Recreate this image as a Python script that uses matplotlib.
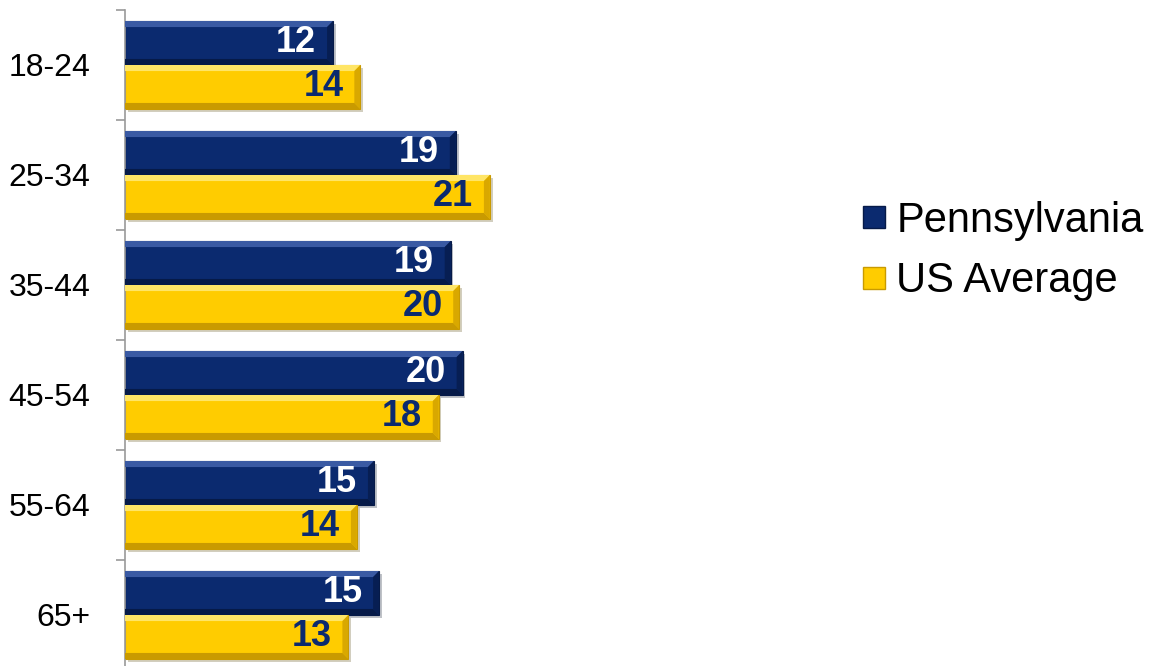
import matplotlib.pyplot as plt
import matplotlib.patheffects as pe
from matplotlib.patches import Polygon
from matplotlib.lines import Line2D

ages = ['18-24', '25-34', '35-44', '45-54', '55-64', '65+']
pennsylvania = [12.2, 19.4, 19.1, 19.8, 14.6, 14.9]
us_average = [13.8, 21.4, 19.6, 18.4, 13.6, 13.1]
series_names = ['Pennsylvania', 'US Average']

navy, navy_light, navy_dark = '#0b2a6f', '#3a5aa3', '#061a48'
gold, gold_light, gold_dark = '#ffcc00', '#ffe566', '#c99a00'

plt.rcParams['font.family'] = ['Liberation Sans', 'DejaVu Sans']

fig = plt.figure(figsize=(11.55, 6.66), dpi=100)
ax = fig.add_axes([125/1155, -4/666, 682/1155, 660/666])

pos = list(range(len(ages)))
h = 0.4
shadow = [pe.SimplePatchShadow(offset=(2, -2), alpha=0.25), pe.Normal()]


def bevel(bars, light, dark):
    dx, dy = 0.35, 0.055
    for b in bars:
        w = b.get_width()
        y0 = b.get_y()
        y1 = y0 + b.get_height()
        # ylim is inverted, so y0 is the top edge on screen
        ax.add_patch(Polygon([(0, y0), (w, y0), (w - dx, y0 + dy), (0, y0 + dy)],
                             color=light, lw=0, zorder=3))
        ax.add_patch(Polygon([(0, y1), (w, y1), (w - dx, y1 - dy), (0, y1 - dy)],
                             color=dark, lw=0, zorder=3))
        ax.add_patch(Polygon([(w, y0), (w, y1), (w - dx, y1 - dy), (w - dx, y0 + dy)],
                             color=dark, lw=0, alpha=0.7, zorder=3))


pa_bars = ax.barh([p - h/2 for p in pos], pennsylvania, height=h, color=navy,
                  edgecolor=navy_dark, lw=0.8, zorder=2)
us_bars = ax.barh([p + h/2 for p in pos], us_average, height=h, color=gold,
                  edgecolor=gold_dark, lw=0.8, zorder=2)
for b in list(pa_bars) + list(us_bars):
    b.set_path_effects(shadow)
bevel(pa_bars, navy_light, navy_dark)
bevel(us_bars, gold_light, gold_dark)

for bars, vals, col in [(pa_bars, pennsylvania, 'white'), (us_bars, us_average, '#0b2a6f')]:
    for b, v in zip(bars, vals):
        ax.annotate(f'{v:.0f}', (v, b.get_y() + b.get_height()/2),
                    xytext=(-12, 0), textcoords='offset points',
                    ha='right', va='center', fontsize=26, fontweight='bold',
                    color=col, zorder=5)

ax.set_xlim(0, 40)
ax.set_ylim(5.5, -0.5)
ax.set_yticks(pos)
ax.set_yticklabels(ages, fontsize=23)
ax.set_yticks([p - 0.5 for p in pos] + [5.5], minor=True)
ax.tick_params(axis='y', which='major', length=0, pad=25)
ax.tick_params(axis='y', which='minor', length=6.5, width=1.2, color='#999999')
ax.set_xticks([])
for s in ['top', 'right', 'bottom']:
    ax.spines[s].set_visible(False)
ax.spines['left'].set_color('#999999')
ax.spines['left'].set_linewidth(1.2)

handles = [Line2D([], [], ls='none', marker='s', markersize=16, markerfacecolor=navy,
                  markeredgecolor=navy_dark),
           Line2D([], [], ls='none', marker='s', markersize=16, markerfacecolor=gold,
                  markeredgecolor=gold_dark)]
fig.legend(handles, series_names, loc='center left', bbox_to_anchor=(836/1155, 1 - 251/666),
           frameon=False, fontsize=30, handlelength=0.8, handletextpad=0.15,
           labelspacing=0.5, borderpad=0)

fig.savefig('out.png', dpi=100)
